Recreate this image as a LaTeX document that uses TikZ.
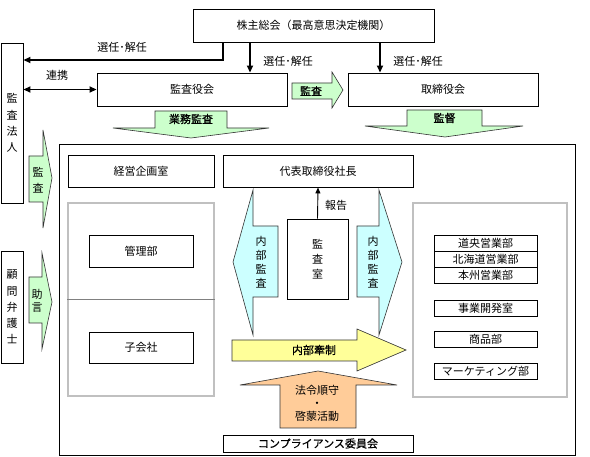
\documentclass[tikz,border=0pt]{standalone}
\usepackage{fontspec}
\setmainfont{Noto Sans CJK JP}
\newfontfamily\semibold{Noto Sans CJK JP}[FakeBold=0.7]
\usetikzlibrary{arrows.meta}
\definecolor{kgreen}{HTML}{CCFFCC}
\definecolor{kcyan}{HTML}{CCFFFF}
\definecolor{kyellow}{HTML}{FFFF99}
\definecolor{korange}{HTML}{FFCC99}
\definecolor{kgray}{HTML}{C0C0C0}
\tikzset{
  box/.style={draw, line width=0.9pt, inner sep=0pt, align=center, font=\fontsize{11}{12}\selectfont},
  area/.style={draw=kgray, line width=1.2pt, inner sep=0pt},
  lbl/.style={inner sep=0pt, align=center, font=\fontsize{11}{12}\selectfont},
  blbl/.style={inner sep=0pt, align=center, font=\fontsize{11}{12}\selectfont\semibold},
  blk/.style={draw=black!80, line width=0.6pt},
  arr/.style={line width=1.8pt, -{Triangle[length=7pt,width=6pt]}},
  darr/.style={line width=1.8pt, {Triangle[length=7pt,width=6pt]}-{Triangle[length=7pt,width=6pt]}},
}
\begin{document}
\begin{tikzpicture}[x=1pt,y=-1pt]
  \useasboundingbox (0,0) rectangle (590,457);
  \node[box, minimum width=241pt, minimum height=33pt] (soukai) at (313.5,25.5) {株主総会（最高意思決定機関）};
  \node[box, minimum width=22pt, minimum height=160pt, font=\fontsize{11}{16.3}\selectfont] (houjin) at (12,123) {監\\査\\法\\人};
  \node[box, minimum width=22pt, minimum height=112pt, font=\fontsize{11}{16.2}\selectfont] (bengoshi) at (12,307) {顧\\問\\弁\\護\\士};
  \node[box, minimum width=190pt, minimum height=33pt] (kansayaku) at (192,89.5) {監査役会};
  \node[box, minimum width=190pt, minimum height=33pt] (torishimari) at (443,89.5) {取締役会};
  \node[draw, line width=0.9pt, minimum width=516pt, minimum height=311pt] (group) at (317,299.5) {};
  \node[box, minimum width=146pt, minimum height=32pt] (keiei) at (141,171) {経営企画室};
  \node[box, minimum width=190pt, minimum height=32pt] (shachou) at (318,171) {代表取締役社長};
  \node[area, minimum width=146pt, minimum height=193pt] (leftarea) at (141,299.5) {};
  \draw[black!50, line width=0.9pt] (leftarea.west) -- (leftarea.east);
  \node[area, minimum width=154pt, minimum height=194pt] (rightarea) at (490,300) {};
  \node[box, minimum width=104pt, minimum height=32pt] (kanri) at (141,251) {管理部};
  \node[box, minimum width=104pt, minimum height=31pt] (kogaisha) at (141,347.5) {子会社};
  \node[box, minimum width=61pt, minimum height=80pt, font=\fontsize{11}{15}\selectfont] (kansashitsu) at (317.5,259) {監\\査\\室};
  \foreach \n/\y/\t in {doou/243/道央営業部, hokkaido/259/北海道営業部, honshu/275/本州営業部, jigyou/308.5/事業開発室, shouhin/339.5/商品部, mkt/371/マーケティング部}
    \node[box, minimum width=103pt, minimum height=16pt] (\n) at (485.5,\y) {\t};
  \node[box, minimum width=190pt, minimum height=17pt, font=\fontsize{11}{12}\selectfont\semibold] (iinkai) at (318,443.5) {コンプライアンス委員会};

  \draw[blk, fill=kgreen] (292,83) -- (332,83) -- (332,72) -- (343,90) -- (332,108) -- (332,99) -- (292,99) -- cycle;
  \node[blbl] (kansa) at (311,91) {監査};
  \draw[blk, fill=kgreen] (155,111) -- (227,111) -- (227,128) -- (269,128) -- (191,138) -- (113,128) -- (155,128) -- cycle;
  \node[blbl] (gyoumu) at (191,119) {業務監査};
  \draw[blk, fill=kgreen] (407,110) -- (482,110) -- (482,126) -- (523,126) -- (445,137) -- (365,126) -- (407,126) -- cycle;
  \node[blbl] (kantoku) at (444.5,118) {監督};
  \draw[blk, fill=kgreen] (29,156) -- (43,156) -- (43,130) -- (52,178) -- (43,228) -- (43,202) -- (29,202) -- cycle;
  \node[lbl, font=\fontsize{11}{16}\selectfont] (kansa2) at (38,180) {監\\査};
  \draw[blk, fill=kgreen] (29,277) -- (42,277) -- (42,253) -- (52,302) -- (42,349) -- (42,323) -- (29,323) -- cycle;
  \node[lbl, font=\fontsize{11}{13}\selectfont] (jogen) at (37,301) {助\\言};
  \draw[blk, fill=kcyan] (278,226) -- (253,226) -- (253,190) -- (233,262) -- (253,335) -- (253,297) -- (278,297) -- cycle;
  \node[lbl, font=\fontsize{11}{14}\selectfont] (naibu1) at (261,262.5) {内\\部\\監\\査};
  \draw[blk, fill=kcyan] (357,226) -- (379,226) -- (379,190) -- (402,262) -- (379,335) -- (379,297) -- (357,297) -- cycle;
  \node[lbl, font=\fontsize{11}{14}\selectfont] (naibu2) at (373,262.5) {内\\部\\監\\査};
  \draw[blk, fill=kyellow] (232,340) -- (357,340) -- (357,329) -- (406,350) -- (357,371) -- (357,361) -- (232,361) -- cycle;
  \node[blbl] (kensei) at (314,350) {内部牽制};
  \draw[blk, fill=korange] (280,428) -- (280,385) -- (240,385) -- (318,371) -- (397,385) -- (356,385) -- (356,428) -- cycle;
  \node[lbl, font=\fontsize{11}{13}\selectfont] (hourei) at (317,403) {法令順守\\・\\啓蒙活動};

  \draw[arr] (soukai.south -| 223,0) |- (houjin.east |- 0,60);
  \draw[darr] (kansayaku.west -| houjin.east) -- (kansayaku.west);
  \draw[arr] (soukai.south -| 250,0) -- (kansayaku.north -| 250,0);
  \draw[arr] (soukai.south -| 380,0) -- (torishimari.north -| 380,0);
  \draw[line width=0.9pt, -{Triangle[length=6pt,width=5pt]}] (kansashitsu.north) -- (shachou.south);
  \node[lbl] (sennin1) at (122,47) {選任･解任};
  \node[lbl] (sennin2) at (288,61) {選任･解任};
  \node[lbl] (sennin3) at (418,61) {選任･解任};
  \node[lbl] (renkei) at (57,75) {連携};
  \node[lbl] (houkoku) at (336,205) {報告};
\end{tikzpicture}
\end{document}
